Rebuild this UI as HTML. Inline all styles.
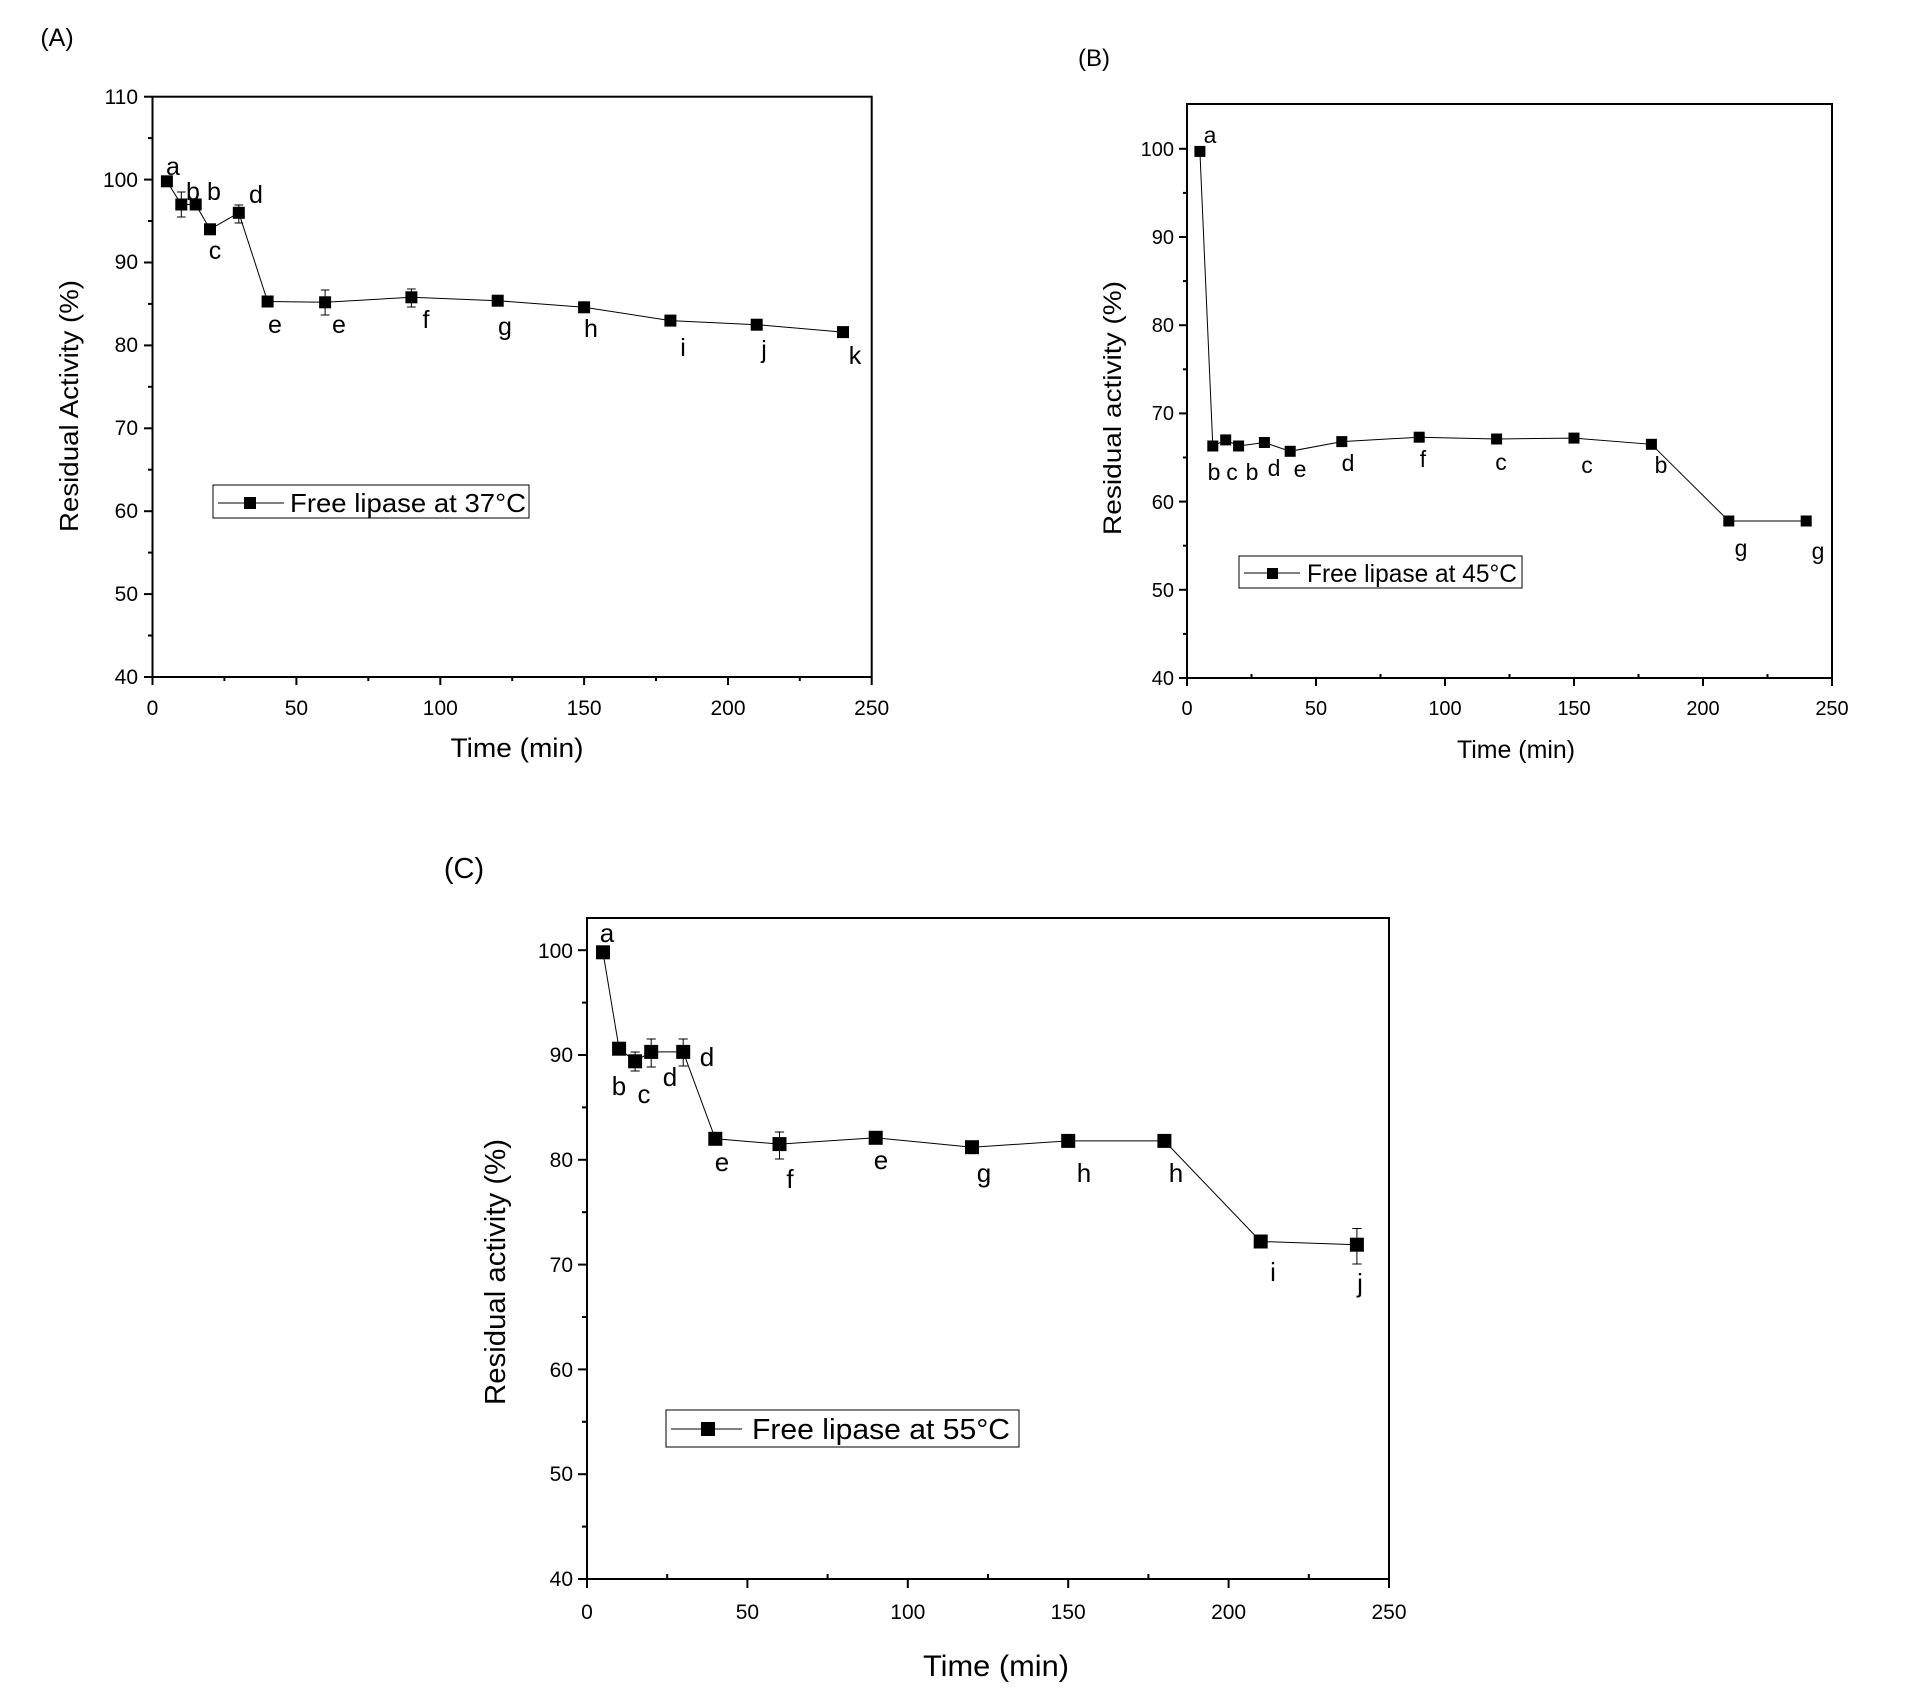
<!DOCTYPE html>
<html><head><meta charset="utf-8"><style>
html,body{margin:0;padding:0;background:#fff;}
svg{display:block;font-family:"Liberation Sans",Arial,sans-serif;}
</style></head><body>
<svg width="1920" height="1701" viewBox="0 0 1920 1701" xmlns="http://www.w3.org/2000/svg">
<rect width="1920" height="1701" fill="#fff"/>

<!-- ===== Panel A ===== -->
<g>
<text x="57" y="46" font-size="25" text-anchor="middle">(A)</text>
<rect x="152.5" y="96.7" width="719.2" height="580.3" fill="none" stroke="#000" stroke-width="2"/>
<g stroke="#000" stroke-width="2">
<line x1="144" y1="677" x2="152.5" y2="677"/><line x1="144" y1="594.1" x2="152.5" y2="594.1"/><line x1="144" y1="511.2" x2="152.5" y2="511.2"/><line x1="144" y1="428.3" x2="152.5" y2="428.3"/><line x1="144" y1="345.4" x2="152.5" y2="345.4"/><line x1="144" y1="262.5" x2="152.5" y2="262.5"/><line x1="144" y1="179.6" x2="152.5" y2="179.6"/><line x1="144" y1="96.7" x2="152.5" y2="96.7"/>
<line x1="148" y1="635.5" x2="152.5" y2="635.5"/><line x1="148" y1="552.6" x2="152.5" y2="552.6"/><line x1="148" y1="469.7" x2="152.5" y2="469.7"/><line x1="148" y1="386.8" x2="152.5" y2="386.8"/><line x1="148" y1="303.9" x2="152.5" y2="303.9"/><line x1="148" y1="221" x2="152.5" y2="221"/><line x1="148" y1="138.1" x2="152.5" y2="138.1"/>
<line x1="152.5" y1="677" x2="152.5" y2="685"/><line x1="296.4" y1="677" x2="296.4" y2="685"/><line x1="440.3" y1="677" x2="440.3" y2="685"/><line x1="584.1" y1="677" x2="584.1" y2="685"/><line x1="728" y1="677" x2="728" y2="685"/><line x1="871.7" y1="677" x2="871.7" y2="685"/>
<line x1="224.4" y1="677" x2="224.4" y2="681"/><line x1="368.3" y1="677" x2="368.3" y2="681"/><line x1="512.2" y1="677" x2="512.2" y2="681"/><line x1="656" y1="677" x2="656" y2="681"/><line x1="799.8" y1="677" x2="799.8" y2="681"/>
</g>
<g font-size="21" text-anchor="end">
<text x="138" y="684">40</text><text x="138" y="601">50</text><text x="138" y="518">60</text><text x="138" y="435">70</text><text x="138" y="352">80</text><text x="138" y="269">90</text><text x="138" y="187">100</text><text x="138" y="104">110</text>
</g>
<g font-size="21" text-anchor="middle">
<text x="152.5" y="715">0</text><text x="296.4" y="715">50</text><text x="440.3" y="715">100</text><text x="584.1" y="715">150</text><text x="728" y="715">200</text><text x="871.7" y="715">250</text>
</g>
<text x="517" y="757" font-size="27" text-anchor="middle" textLength="133" lengthAdjust="spacingAndGlyphs">Time (min)</text>
<text transform="translate(78,406) rotate(-90)" font-size="26" text-anchor="middle" textLength="252" lengthAdjust="spacingAndGlyphs">Residual Activity (%)</text>
<polyline fill="none" stroke="#000" stroke-width="1" points="166.9,181.3 181.3,204.5 195.7,204.5 210,229.3 238.8,212.8 267.6,301.5 325.1,302.3 411.4,297.3 497.7,300.7 584.1,307.3 670.4,320.6 756.7,324.7 843,332.1"/>
<g stroke="#000" stroke-width="1">
<line x1="181.3" y1="192" x2="181.3" y2="217"/><line x1="177" y1="192" x2="185.6" y2="192"/><line x1="177" y1="217" x2="185.6" y2="217"/>
<line x1="238.8" y1="205" x2="238.8" y2="223"/><line x1="234.5" y1="205" x2="243.1" y2="205"/><line x1="234.5" y1="223" x2="243.1" y2="223"/>
<line x1="325.1" y1="290" x2="325.1" y2="315"/><line x1="320.8" y1="290" x2="329.4" y2="290"/><line x1="320.8" y1="315" x2="329.4" y2="315"/>
<line x1="411.4" y1="289" x2="411.4" y2="307"/><line x1="407.1" y1="289" x2="415.7" y2="289"/><line x1="407.1" y1="307" x2="415.7" y2="307"/>
</g>
<g fill="#000">
<rect x="160.9" y="175.3" width="12" height="12"/><rect x="175.3" y="198.5" width="12" height="12"/><rect x="189.7" y="198.5" width="12" height="12"/><rect x="204" y="223.3" width="12" height="12"/><rect x="232.8" y="206.8" width="12" height="12"/><rect x="261.6" y="295.5" width="12" height="12"/><rect x="319.1" y="296.3" width="12" height="12"/><rect x="405.4" y="291.3" width="12" height="12"/><rect x="491.7" y="294.7" width="12" height="12"/><rect x="578.1" y="301.3" width="12" height="12"/><rect x="664.4" y="314.6" width="12" height="12"/><rect x="750.7" y="318.7" width="12" height="12"/><rect x="837" y="326.1" width="12" height="12"/>
</g>
<g font-size="25" text-anchor="middle">
<text x="173" y="175">a</text><text x="193" y="200">b</text><text x="214" y="200">b</text><text x="215" y="259">c</text><text x="256" y="203">d</text><text x="275" y="333">e</text><text x="339" y="333">e</text><text x="426" y="328">f</text><text x="505" y="335">g</text><text x="591" y="337">h</text><text x="683" y="356">i</text><text x="764" y="358">j</text><text x="855" y="364">k</text>
</g>
<rect x="213" y="485" width="316" height="33" fill="#fff" stroke="#000" stroke-width="1"/>
<line x1="218" y1="503" x2="284" y2="503" stroke="#000" stroke-width="1"/>
<rect x="244" y="497" width="12" height="12" fill="#000"/>
<text x="290" y="512" font-size="26" textLength="236" lengthAdjust="spacingAndGlyphs">Free lipase at 37°C</text>
</g>

<!-- ===== Panel B ===== -->
<g>
<text x="1094" y="66" font-size="24" text-anchor="middle">(B)</text>
<rect x="1187" y="104" width="645" height="574" fill="none" stroke="#000" stroke-width="2"/>
<g stroke="#000" stroke-width="2">
<line x1="1179" y1="678" x2="1187" y2="678"/><line x1="1179" y1="589.8" x2="1187" y2="589.8"/><line x1="1179" y1="501.6" x2="1187" y2="501.6"/><line x1="1179" y1="413.4" x2="1187" y2="413.4"/><line x1="1179" y1="325.2" x2="1187" y2="325.2"/><line x1="1179" y1="237" x2="1187" y2="237"/><line x1="1179" y1="148.8" x2="1187" y2="148.8"/>
<line x1="1183" y1="633.9" x2="1187" y2="633.9"/><line x1="1183" y1="545.7" x2="1187" y2="545.7"/><line x1="1183" y1="457.5" x2="1187" y2="457.5"/><line x1="1183" y1="369.3" x2="1187" y2="369.3"/><line x1="1183" y1="281.1" x2="1187" y2="281.1"/><line x1="1183" y1="192.9" x2="1187" y2="192.9"/>
<line x1="1187" y1="678" x2="1187" y2="686"/><line x1="1316" y1="678" x2="1316" y2="686"/><line x1="1445" y1="678" x2="1445" y2="686"/><line x1="1574" y1="678" x2="1574" y2="686"/><line x1="1703" y1="678" x2="1703" y2="686"/><line x1="1832" y1="678" x2="1832" y2="686"/>
<line x1="1251.5" y1="674" x2="1251.5" y2="678"/><line x1="1380.5" y1="674" x2="1380.5" y2="678"/><line x1="1509.5" y1="674" x2="1509.5" y2="678"/><line x1="1638.5" y1="674" x2="1638.5" y2="678"/><line x1="1767.5" y1="674" x2="1767.5" y2="678"/>
</g>
<g font-size="20" text-anchor="end">
<text x="1174" y="685">40</text><text x="1174" y="597">50</text><text x="1174" y="509">60</text><text x="1174" y="420">70</text><text x="1174" y="332">80</text><text x="1174" y="244">90</text><text x="1174" y="156">100</text>
</g>
<g font-size="20" text-anchor="middle">
<text x="1187" y="715">0</text><text x="1316" y="715">50</text><text x="1445" y="715">100</text><text x="1574" y="715">150</text><text x="1703" y="715">200</text><text x="1832" y="715">250</text>
</g>
<text x="1516" y="758" font-size="25" text-anchor="middle" textLength="118" lengthAdjust="spacingAndGlyphs">Time (min)</text>
<text transform="translate(1121,408) rotate(-90)" font-size="25" text-anchor="middle" textLength="254" lengthAdjust="spacingAndGlyphs">Residual activity (%)</text>
<polyline fill="none" stroke="#000" stroke-width="1" points="1199.9,151.4 1212.8,446 1225.7,439.9 1238.6,446 1264.4,442.5 1290.2,451.3 1341.8,441.6 1419.2,437.2 1496.6,439 1574,438.1 1651.4,444.3 1728.8,521 1806.2,521"/>
<g fill="#000">
<rect x="1194.4" y="145.9" width="11" height="11"/><rect x="1207.3" y="440.5" width="11" height="11"/><rect x="1220.2" y="434.4" width="11" height="11"/><rect x="1233.1" y="440.5" width="11" height="11"/><rect x="1258.9" y="437" width="11" height="11"/><rect x="1284.7" y="445.8" width="11" height="11"/><rect x="1336.3" y="436.1" width="11" height="11"/><rect x="1413.7" y="431.7" width="11" height="11"/><rect x="1491.1" y="433.5" width="11" height="11"/><rect x="1568.5" y="432.6" width="11" height="11"/><rect x="1645.9" y="438.8" width="11" height="11"/><rect x="1723.3" y="515.5" width="11" height="11"/><rect x="1800.7" y="515.5" width="11" height="11"/>
</g>
<g font-size="23" text-anchor="middle">
<text x="1210" y="143">a</text><text x="1214" y="480">b</text><text x="1232" y="480">c</text><text x="1252" y="480">b</text><text x="1274" y="476">d</text><text x="1300" y="477">e</text><text x="1348" y="471">d</text><text x="1423" y="467">f</text><text x="1501" y="470">c</text><text x="1587" y="473">c</text><text x="1661" y="473">b</text><text x="1741" y="556">g</text><text x="1818" y="559">g</text>
</g>
<rect x="1239" y="556" width="283" height="32" fill="#fff" stroke="#000" stroke-width="1"/>
<line x1="1244" y1="573" x2="1300" y2="573" stroke="#000" stroke-width="1"/>
<rect x="1267" y="568" width="11" height="11" fill="#000"/>
<text x="1307" y="582" font-size="25" textLength="210" lengthAdjust="spacingAndGlyphs">Free lipase at 45°C</text>
</g>

<!-- ===== Panel C ===== -->
<g>
<text x="464" y="878" font-size="29" text-anchor="middle">(C)</text>
<rect x="587" y="918" width="802" height="661" fill="none" stroke="#000" stroke-width="2"/>
<g stroke="#000" stroke-width="2">
<line x1="578" y1="1579" x2="587" y2="1579"/><line x1="578" y1="1474.2" x2="587" y2="1474.2"/><line x1="578" y1="1369.4" x2="587" y2="1369.4"/><line x1="578" y1="1264.6" x2="587" y2="1264.6"/><line x1="578" y1="1159.8" x2="587" y2="1159.8"/><line x1="578" y1="1055" x2="587" y2="1055"/><line x1="578" y1="950.2" x2="587" y2="950.2"/>
<line x1="582" y1="1526.6" x2="587" y2="1526.6"/><line x1="582" y1="1421.8" x2="587" y2="1421.8"/><line x1="582" y1="1317" x2="587" y2="1317"/><line x1="582" y1="1212.2" x2="587" y2="1212.2"/><line x1="582" y1="1107.4" x2="587" y2="1107.4"/><line x1="582" y1="1002.6" x2="587" y2="1002.6"/>
<line x1="587" y1="1579" x2="587" y2="1588"/><line x1="747.4" y1="1579" x2="747.4" y2="1588"/><line x1="907.8" y1="1579" x2="907.8" y2="1588"/><line x1="1068.2" y1="1579" x2="1068.2" y2="1588"/><line x1="1228.6" y1="1579" x2="1228.6" y2="1588"/><line x1="1389" y1="1579" x2="1389" y2="1588"/>
<line x1="667.2" y1="1574" x2="667.2" y2="1579"/><line x1="827.6" y1="1574" x2="827.6" y2="1579"/><line x1="988" y1="1574" x2="988" y2="1579"/><line x1="1148.4" y1="1574" x2="1148.4" y2="1579"/><line x1="1308.8" y1="1574" x2="1308.8" y2="1579"/>
</g>
<g font-size="21" text-anchor="end">
<text x="573" y="1586">40</text><text x="573" y="1481">50</text><text x="573" y="1377">60</text><text x="573" y="1272">70</text><text x="573" y="1167">80</text><text x="573" y="1062">90</text><text x="573" y="958">100</text>
</g>
<g font-size="21" text-anchor="middle">
<text x="587" y="1619">0</text><text x="747.4" y="1619">50</text><text x="907.8" y="1619">100</text><text x="1068.2" y="1619">150</text><text x="1228.6" y="1619">200</text><text x="1389" y="1619">250</text>
</g>
<text x="996" y="1676" font-size="30" text-anchor="middle" textLength="146" lengthAdjust="spacingAndGlyphs">Time (min)</text>
<text transform="translate(505,1272) rotate(-90)" font-size="29" text-anchor="middle" textLength="266" lengthAdjust="spacingAndGlyphs">Residual activity (%)</text>
<polyline fill="none" stroke="#000" stroke-width="1" points="603,952.3 619.1,1048.7 635.1,1061.3 651.2,1051.9 683.2,1051.9 715.3,1138.8 779.5,1144.1 875.7,1137.8 972,1147.2 1068.2,1140.9 1164.4,1140.9 1260.7,1241.5 1356.9,1244.7"/>
<g stroke="#000" stroke-width="1">
<line x1="635.1" y1="1052" x2="635.1" y2="1071"/><line x1="630.5" y1="1052" x2="639.7" y2="1052"/><line x1="630.5" y1="1071" x2="639.7" y2="1071"/>
<line x1="651.2" y1="1039" x2="651.2" y2="1067"/><line x1="646.6" y1="1039" x2="655.8" y2="1039"/><line x1="646.6" y1="1067" x2="655.8" y2="1067"/>
<line x1="683.2" y1="1039" x2="683.2" y2="1066"/><line x1="678.6" y1="1039" x2="687.8" y2="1039"/><line x1="678.6" y1="1066" x2="687.8" y2="1066"/>
<line x1="779.5" y1="1132" x2="779.5" y2="1159"/><line x1="774.9" y1="1132" x2="784.1" y2="1132"/><line x1="774.9" y1="1159" x2="784.1" y2="1159"/>
<line x1="1356.9" y1="1228.5" x2="1356.9" y2="1264"/><line x1="1352.3" y1="1228.5" x2="1361.5" y2="1228.5"/><line x1="1352.3" y1="1264" x2="1361.5" y2="1264"/>
</g>
<g fill="#000">
<rect x="596" y="945.3" width="14" height="14"/><rect x="612.1" y="1041.7" width="14" height="14"/><rect x="628.1" y="1054.3" width="14" height="14"/><rect x="644.2" y="1044.9" width="14" height="14"/><rect x="676.2" y="1044.9" width="14" height="14"/><rect x="708.3" y="1131.8" width="14" height="14"/><rect x="772.5" y="1137.1" width="14" height="14"/><rect x="868.7" y="1130.8" width="14" height="14"/><rect x="965" y="1140.2" width="14" height="14"/><rect x="1061.2" y="1133.9" width="14" height="14"/><rect x="1157.4" y="1133.9" width="14" height="14"/><rect x="1253.7" y="1234.5" width="14" height="14"/><rect x="1349.9" y="1237.7" width="14" height="14"/>
</g>
<g font-size="26" text-anchor="middle">
<text x="607" y="942">a</text><text x="619" y="1095">b</text><text x="644" y="1103">c</text><text x="670" y="1086">d</text><text x="707" y="1066">d</text><text x="722" y="1171">e</text><text x="790" y="1188">f</text><text x="881" y="1169">e</text><text x="984" y="1182">g</text><text x="1084" y="1182">h</text><text x="1176" y="1182">h</text><text x="1273" y="1281">i</text><text x="1360" y="1292">j</text>
</g>
<rect x="666" y="1410" width="353" height="37" fill="#fff" stroke="#000" stroke-width="1"/>
<line x1="671" y1="1429" x2="742" y2="1429" stroke="#000" stroke-width="1"/>
<rect x="701" y="1422" width="14" height="14" fill="#000"/>
<text x="752" y="1439" font-size="29" textLength="258" lengthAdjust="spacingAndGlyphs">Free lipase at 55°C</text>
</g>
</svg>
</body></html>
